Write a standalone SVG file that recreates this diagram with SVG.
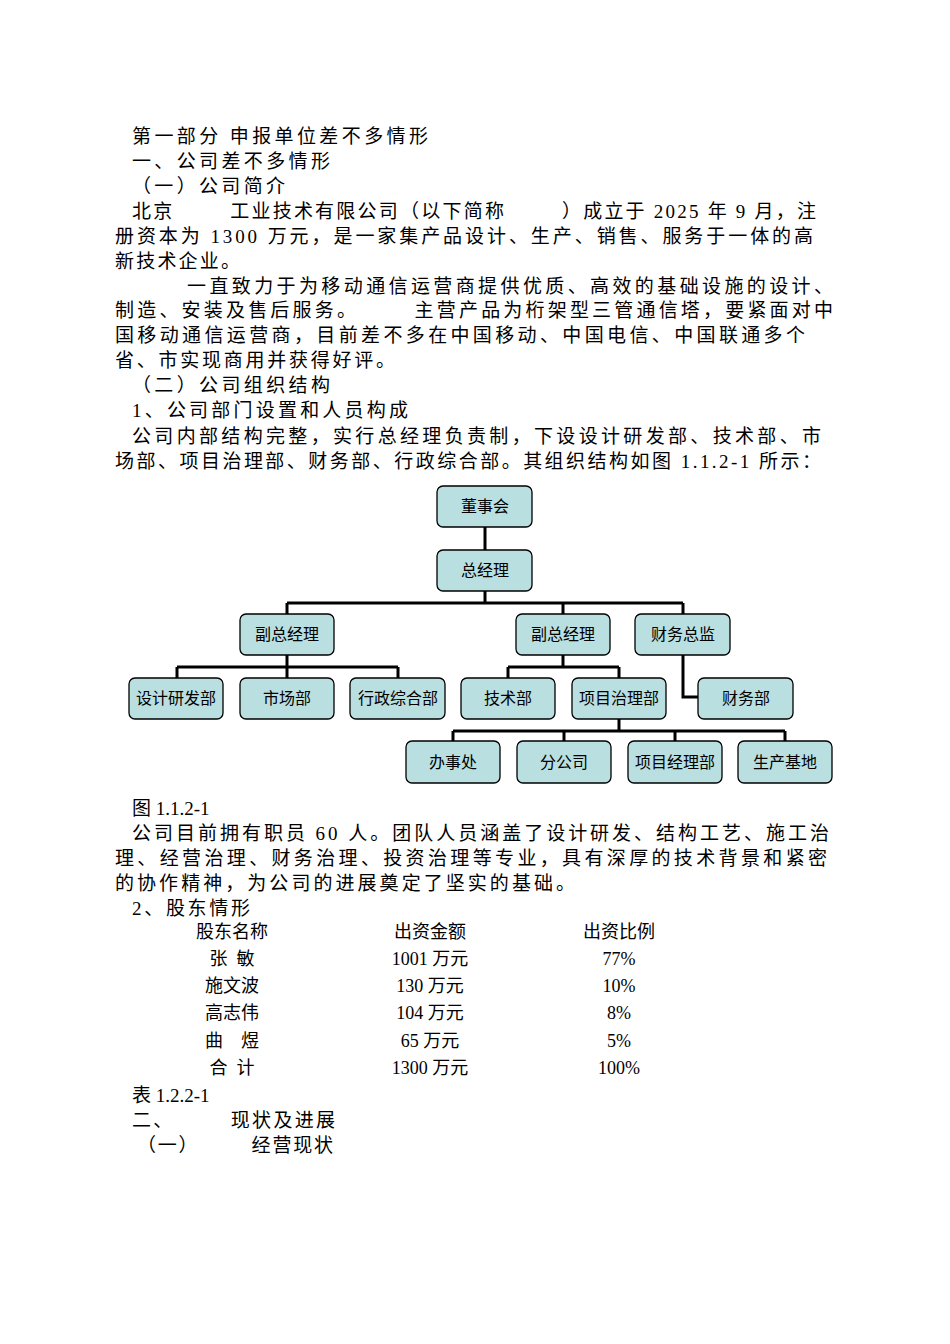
<svg xmlns="http://www.w3.org/2000/svg" width="950" height="1344" viewBox="0 0 950 1344">
<style>
text{font-family:"Liberation Serif","Noto Sans CJK SC",serif;font-size:19px;fill:#000}
.n rect{fill:#b9dfe0;stroke:#000;stroke-width:1.3}
.n text{font-size:16px;text-anchor:middle}
.c{fill:none;stroke:#000;stroke-width:3}
.t{text-anchor:middle;font-size:18px}
</style>
<rect width="950" height="1344" fill="#fff"/>
<text x="132" y="143" textLength="296" lengthAdjust="spacing">第一部分  申报单位差不多情形</text>
<text x="132" y="168" textLength="198" lengthAdjust="spacing">一、公司差不多情形</text>
<text x="132" y="193" textLength="153" lengthAdjust="spacing">（一）公司简介</text>
<text x="132" y="218" xml:space="preserve" textLength="684" lengthAdjust="spacing">北京        工业技术有限公司（以下简称        ）成立于 2025 年 9 月，注</text>
<text x="115" y="243" textLength="698" lengthAdjust="spacing">册资本为 1300 万元，是一家集产品设计、生产、销售、服务于一体的高</text>
<text x="115" y="268" textLength="125" lengthAdjust="spacing">新技术企业。</text>
<text x="187" y="293" textLength="646" lengthAdjust="spacing">一直致力于为移动通信运营商提供优质、高效的基础设施的设计、</text>
<text x="115" y="317" xml:space="preserve" textLength="718" lengthAdjust="spacing">制造、安装及售后服务。       主营产品为桁架型三管通信塔，要紧面对中</text>
<text x="115" y="342" textLength="690" lengthAdjust="spacing">国移动通信运营商，目前差不多在中国移动、中国电信、中国联通多个</text>
<text x="115" y="367" textLength="280" lengthAdjust="spacing">省、市实现商用并获得好评。</text>
<text x="132" y="392" textLength="198" lengthAdjust="spacing">（二）公司组织结构</text>
<text x="132" y="417" textLength="276" lengthAdjust="spacing">1、公司部门设置和人员构成</text>
<text x="132" y="443" textLength="689" lengthAdjust="spacing">公司内部结构完整，实行总经理负责制，下设设计研发部、技术部、市</text>
<text x="115" y="468" textLength="706" lengthAdjust="spacing">场部、项目治理部、财务部、行政综合部。其组织结构如图 1.1.2-1 所示：</text>
<g id="connectors" class="c">
<path d="M485 527V550M485 591V603M287 603H683M287 603V614M563 603V614M683 603V614"/>
<path d="M287 655V667M177 667H398M177 667V678M287 667V678M398 667V678"/>
<path d="M563 655V667M508 667H619M508 667V678M619 667V678"/>
<path d="M683 655V697H698"/>
<path d="M619 719V731M453 731H785M453 731V741M564 731V741M675 731V741M785 731V741"/>
</g>
<g id="n1" class="n"><rect x="437" y="486" width="95" height="41" rx="6"/><text x="485" y="512">董事会</text></g>
<g id="n2" class="n"><rect x="437" y="550" width="95" height="41" rx="6"/><text x="485" y="576">总经理</text></g>
<g id="n3" class="n"><rect x="240" y="614" width="94" height="41" rx="6"/><text x="287" y="640">副总经理</text></g>
<g id="n4" class="n"><rect x="516" y="614" width="94" height="41" rx="6"/><text x="563" y="640">副总经理</text></g>
<g id="n5" class="n"><rect x="635" y="614" width="95" height="41" rx="6"/><text x="683" y="640">财务总监</text></g>
<g id="n6" class="n"><rect x="129" y="678" width="94" height="41" rx="6"/><text x="176" y="704">设计研发部</text></g>
<g id="n7" class="n"><rect x="240" y="678" width="94" height="41" rx="6"/><text x="287" y="704">市场部</text></g>
<g id="n8" class="n"><rect x="350" y="678" width="95" height="41" rx="6"/><text x="398" y="704">行政综合部</text></g>
<g id="n9" class="n"><rect x="461" y="678" width="94" height="41" rx="6"/><text x="508" y="704">技术部</text></g>
<g id="n10" class="n"><rect x="572" y="678" width="94" height="41" rx="6"/><text x="619" y="704">项目治理部</text></g>
<g id="n11" class="n"><rect x="698" y="678" width="95" height="41" rx="6"/><text x="746" y="704">财务部</text></g>
<g id="n12" class="n"><rect x="406" y="741" width="94" height="42" rx="6"/><text x="453" y="768">办事处</text></g>
<g id="n13" class="n"><rect x="517" y="741" width="94" height="42" rx="6"/><text x="564" y="768">分公司</text></g>
<g id="n14" class="n"><rect x="628" y="741" width="94" height="42" rx="6"/><text x="675" y="768">项目经理部</text></g>
<g id="n15" class="n"><rect x="738" y="741" width="94" height="42" rx="6"/><text x="785" y="768">生产基地</text></g>
<text x="132" y="815">图 1.1.2-1</text>
<text x="132" y="840" textLength="697" lengthAdjust="spacing">公司目前拥有职员 60 人。团队人员涵盖了设计研发、结构工艺、施工治</text>
<text x="115" y="865" textLength="712" lengthAdjust="spacing">理、经营治理、财务治理、投资治理等专业，具有深厚的技术背景和紧密</text>
<text x="115" y="890" textLength="460" lengthAdjust="spacing">的协作精神，为公司的进展奠定了坚实的基础。</text>
<text x="132" y="915" textLength="118" lengthAdjust="spacing">2、股东情形</text>
<text class="t" x="232" y="938">股东名称</text><text class="t" x="430" y="938">出资金额</text><text class="t" x="619" y="938">出资比例</text>
<text class="t" x="232" y="965" xml:space="preserve">张  敏</text><text class="t" x="430" y="965">1001 万元</text><text class="t" x="619" y="965">77%</text>
<text class="t" x="232" y="992">施文波</text><text class="t" x="430" y="992">130 万元</text><text class="t" x="619" y="992">10%</text>
<text class="t" x="232" y="1019">高志伟</text><text class="t" x="430" y="1019">104 万元</text><text class="t" x="619" y="1019">8%</text>
<text class="t" x="232" y="1047" xml:space="preserve">曲    煜</text><text class="t" x="430" y="1047">65 万元</text><text class="t" x="619" y="1047">5%</text>
<text class="t" x="232" y="1074" xml:space="preserve">合  计</text><text class="t" x="430" y="1074">1300 万元</text><text class="t" x="619" y="1074">100%</text>
<text x="132" y="1102">表 1.2.2-1</text>
<text x="132" y="1127" xml:space="preserve" textLength="203" lengthAdjust="spacing">二、        现状及进展</text>
<text x="137" y="1152" xml:space="preserve" textLength="196" lengthAdjust="spacing">（一）        经营现状</text>
</svg>
